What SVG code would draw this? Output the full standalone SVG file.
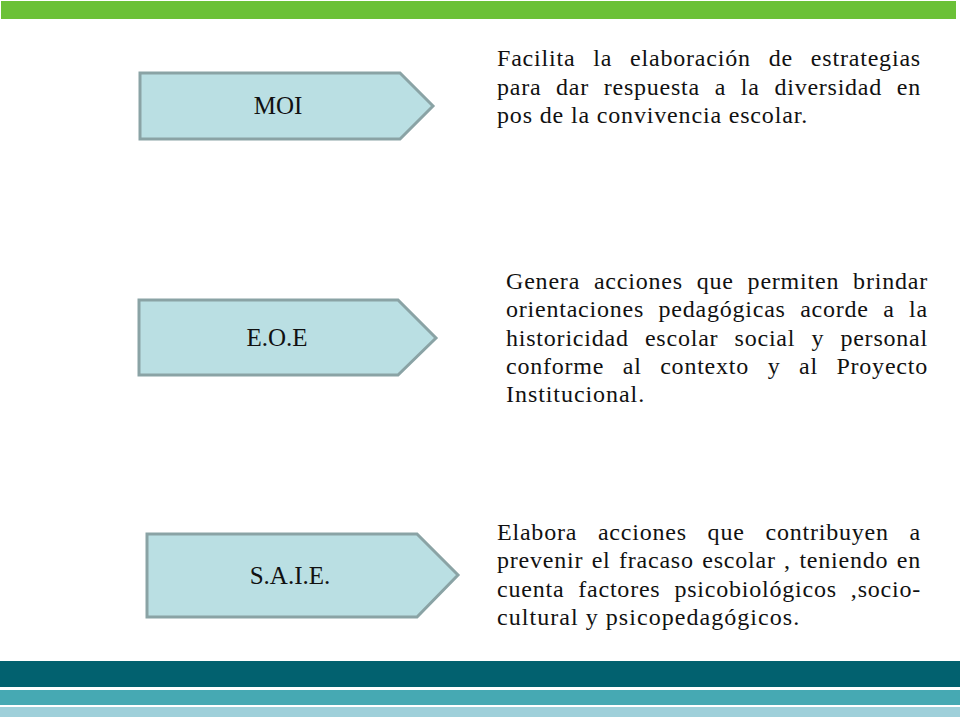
<svg xmlns="http://www.w3.org/2000/svg" width="960" height="720" viewBox="0 0 960 720">
<style>
.shape{fill:#badfe3;stroke:#8aa3a5;stroke-width:3;stroke-linejoin:miter}
.lbl{font-family:"Liberation Serif","Times New Roman",serif;font-size:25px;fill:#111;text-anchor:middle}
.body text{font-family:"Liberation Serif","Times New Roman",serif;font-size:24px;fill:#111;letter-spacing:0.8px}
</style>
<rect width="960" height="720" fill="#ffffff"/>
<rect x="1" y="1" width="955" height="18" fill="#6bc137"/>
<rect x="0" y="661" width="960" height="26" fill="#02616f"/>
<rect x="0" y="690" width="960" height="15" fill="#46a9b3"/>
<rect x="0" y="707" width="960" height="10" fill="#9fd0da"/>
<g id="moi">
<polygon class="shape" points="140,73 400,73 433,106 400,139 140,139"/>
<text class="lbl" x="278" y="114">MOI</text>
</g>
<g id="eoe">
<polygon class="shape" points="139,300 398,300 436,338 398,375 139,375"/>
<text class="lbl" x="277" y="346">E.O.E</text>
</g>
<g id="saie">
<polygon class="shape" points="147,534 417,534 458,575 417,617 147,617"/>
<text class="lbl" x="290" y="584">S.A.I.E.</text>
</g>
<g id="text-moi" class="body">
<text x="497" y="66" word-spacing="11" textLength="424" lengthAdjust="spacing">Facilita la elaboración de estrategias</text>
<text x="497" y="95" word-spacing="8" textLength="424" lengthAdjust="spacing">para dar respuesta a la diversidad en</text>
<text x="497" y="123" textLength="311" lengthAdjust="spacing">pos de la convivencia escolar.</text>
</g>
<g id="text-eoe" class="body">
<text x="506" y="289" word-spacing="7" textLength="422" lengthAdjust="spacing">Genera acciones que permiten brindar</text>
<text x="506" y="317" word-spacing="7.7" textLength="422" lengthAdjust="spacing">orientaciones pedagógicas acorde a la</text>
<text x="506" y="346" word-spacing="9.4" textLength="422" lengthAdjust="spacing">historicidad escolar social y personal</text>
<text x="506" y="374" word-spacing="11.8" textLength="422" lengthAdjust="spacing">conforme al contexto y al Proyecto</text>
<text x="506" y="402" textLength="139" lengthAdjust="spacing">Institucional.</text>
</g>
<g id="text-saie" class="body">
<text x="497" y="540" word-spacing="14" textLength="424" lengthAdjust="spacing">Elabora acciones que contribuyen a</text>
<text x="497" y="568" word-spacing="1.7" textLength="424" lengthAdjust="spacing">prevenir el fracaso escolar , teniendo en</text>
<text x="497" y="597" word-spacing="7.2" textLength="424" lengthAdjust="spacing">cuenta factores psicobiológicos ,socio-</text>
<text x="497" y="625" textLength="303" lengthAdjust="spacing">cultural y psicopedagógicos.</text>
</g>
<g id="connectors"></g>
</svg>
